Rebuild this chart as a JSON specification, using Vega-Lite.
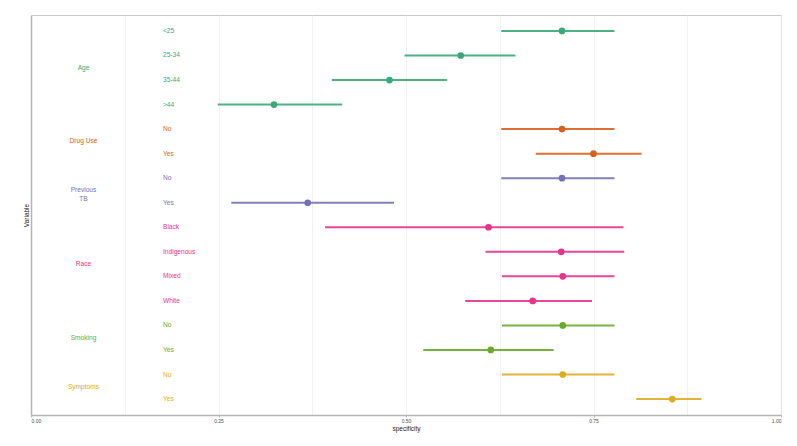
{
  "$schema": "https://vega.github.io/schema/vega-lite/v6.json",
  "autosize": "none",
  "width": 750,
  "height": 400,
  "padding": {"left": 31, "top": 15, "right": 16, "bottom": 31},
  "background": "white",
  "config": {
    "view": {"stroke": "#c9c9c9", "strokeWidth": 1},
    "font": "Liberation Sans",
    "axis": {"domainColor": "#b5b5b5", "domainWidth": 1.5, "gridColor": "#ededed", "gridWidth": 0.8, "labelFont": "Liberation Sans", "titleFont": "Liberation Sans", "titleFontWeight": "normal"}
  },
  "datasets": {
    "est": [
      {"group": "Age", "level": "<25", "key": "Age: <25", "est": 0.708, "lo": 0.627, "hi": 0.778},
      {"group": "Age", "level": "25-34", "key": "Age: 25-34", "est": 0.573, "lo": 0.498, "hi": 0.646},
      {"group": "Age", "level": "35-44", "key": "Age: 35-44", "est": 0.478, "lo": 0.401, "hi": 0.555},
      {"group": "Age", "level": ">44", "key": "Age: >44", "est": 0.324, "lo": 0.249, "hi": 0.415},
      {"group": "Drug Use", "level": "No", "key": "Drug Use: No", "est": 0.708, "lo": 0.627, "hi": 0.778},
      {"group": "Drug Use", "level": "Yes", "key": "Drug Use: Yes", "est": 0.75, "lo": 0.673, "hi": 0.814},
      {"group": "Previous TB", "level": "No", "key": "Previous TB: No", "est": 0.708, "lo": 0.627, "hi": 0.778},
      {"group": "Previous TB", "level": "Yes", "key": "Previous TB: Yes", "est": 0.369, "lo": 0.267, "hi": 0.484},
      {"group": "Race", "level": "Black", "key": "Race: Black", "est": 0.61, "lo": 0.392, "hi": 0.79},
      {"group": "Race", "level": "Indigenous", "key": "Race: Indigenous", "est": 0.707, "lo": 0.606, "hi": 0.791},
      {"group": "Race", "level": "Mixed", "key": "Race: Mixed", "est": 0.709, "lo": 0.628, "hi": 0.778},
      {"group": "Race", "level": "White", "key": "Race: White", "est": 0.669, "lo": 0.579, "hi": 0.748},
      {"group": "Smoking", "level": "No", "key": "Smoking: No", "est": 0.709, "lo": 0.628, "hi": 0.778},
      {"group": "Smoking", "level": "Yes", "key": "Smoking: Yes", "est": 0.613, "lo": 0.523, "hi": 0.697},
      {"group": "Symptoms", "level": "No", "key": "Symptoms: No", "est": 0.709, "lo": 0.628, "hi": 0.778},
      {"group": "Symptoms", "level": "Yes", "key": "Symptoms: Yes", "est": 0.855, "lo": 0.807, "hi": 0.894}
    ],
    "groups": [
      {"group": "Age", "label": "Age", "anchor": "Age: 25-34"},
      {"group": "Drug Use", "label": "Drug Use", "anchor": "Drug Use: No"},
      {"group": "Previous TB", "label": "Previous\nTB", "anchor": "Previous TB: No"},
      {"group": "Race", "label": "Race", "anchor": "Race: Indigenous"},
      {"group": "Smoking", "label": "Smoking", "anchor": "Smoking: No"},
      {"group": "Symptoms", "label": "Symptoms", "anchor": "Symptoms: No"}
    ]
  },
  "encoding": {
    "color": {
      "field": "group", "type": "nominal", "legend": null,
      "scale": {
        "domain": ["Age", "Drug Use", "Previous TB", "Race", "Smoking", "Symptoms"],
        "range": ["#3aa878", "#d8611c", "#7671b6", "#e6338c", "#6aab2a", "#dcac22"]
      }
    }
  },
  "layer": [
    {
      "data": {"name": "est"},
      "mark": {"type": "rule", "strokeWidth": 2, "opacity": 0.9},
      "encoding": {
        "x": {
          "field": "lo", "type": "quantitative",
          "scale": {"domain": [0, 1], "nice": false, "zero": false},
          "axis": {
            "values": [0, 0.125, 0.25, 0.375, 0.5, 0.625, 0.75, 0.875, 1],
            "labelExpr": "(datum.value * 4) % 1 == 0 ? format(datum.value, '.2f') : ''",
            "labelFontSize": 5, "labelColor": "#4d4d4d", "labelPadding": 1,
            "tickSize": 2, "tickColor": {"condition": {"test": "(datum.value * 4) % 1 == 0", "value": "#b5b5b5"}, "value": "transparent"},
            "title": "specificity", "titleFontSize": 6.5, "titleColor": "#1a1a1a", "titlePadding": 2
          }
        },
        "x2": {"field": "hi"},
        "y": {
          "field": "key", "type": "nominal", "sort": null,
          "scale": {
            "type": "point", "padding": 0.65,
            "domain": ["Age: <25", "Age: 25-34", "Age: 35-44", "Age: >44", "Drug Use: No", "Drug Use: Yes", "Previous TB: No", "Previous TB: Yes", "Race: Black", "Race: Indigenous", "Race: Mixed", "Race: White", "Smoking: No", "Smoking: Yes", "Symptoms: No", "Symptoms: Yes"]
          },
          "axis": {"labels": false, "ticks": false, "grid": false, "title": "Variable", "titleFontSize": 6.5, "titleColor": "#1a1a1a", "titlePadding": 2}
        }
      }
    },
    {
      "data": {"name": "est"},
      "mark": {"type": "point", "filled": true, "size": 45, "opacity": 1},
      "encoding": {
        "x": {"field": "est", "type": "quantitative"},
        "y": {"field": "key", "type": "nominal", "sort": null}
      }
    },
    {
      "data": {"name": "est"},
      "mark": {"type": "text", "align": "left", "baseline": "middle", "fontSize": 6.6},
      "encoding": {
        "x": {"datum": 0.176, "type": "quantitative"},
        "y": {"field": "key", "type": "nominal", "sort": null},
        "text": {"field": "level"}
      }
    },
    {
      "data": {"name": "groups"},
      "mark": {"type": "text", "align": "center", "baseline": "middle", "fontSize": 6.6, "dy": 12.3, "lineBreak": "\n", "lineHeight": 9},
      "encoding": {
        "x": {"datum": 0.07, "type": "quantitative"},
        "y": {"field": "anchor", "type": "nominal", "sort": null},
        "text": {"field": "label"}
      }
    }
  ]
}
